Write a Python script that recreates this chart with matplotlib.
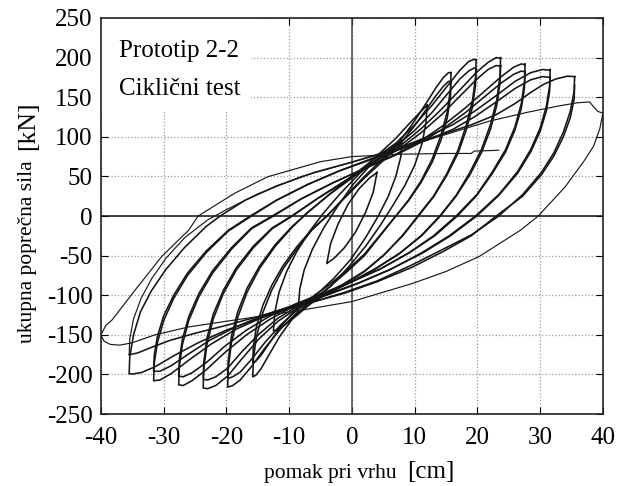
import matplotlib
matplotlib.use("Agg")
import matplotlib.pyplot as plt
from matplotlib.patches import Rectangle

plt.rcParams['font.family'] = ['Liberation Serif', 'DejaVu Serif']
plt.rcParams['axes.unicode_minus'] = False

# hysteresis cycles: displacement [cm], force [kN]
# each closed cycle = unloading from +peak to -peak, then reloading back
c4_d = [4, 3.4, 2.2, 0.6, -1.2, -2.8, -4, -3.4, -2.2, -0.6, 1.2, 2.8, 4]
c4_f = [55, 30, 5, -20, -40, -53, -60, -35, -10, 15, 35, 48, 55]

c8_d = [8, 7.8, 7, 5.8, 4.2, 2.2, -0.2, -2.8, -5.2, -7.2, -8.5,
        -8.3, -7.6, -6.3, -4.5, -2.3, 0.2, 2.8, 5.2, 7, 8]
c8_f = [95, 75, 50, 25, 0, -27, -55, -78, -96, -108, -112,
        -92, -68, -42, -15, 12, 40, 63, 80, 90, 95]

c12_d = [12, 11.8, 11.2, 10, 8.4, 6.5, 4.5, 2.2, -0.5, -3.3, -6.2, -8.7, -10.8, -12, -12.5,
         -12.3, -11.6, -10.4, -8.8, -6.8, -4.6, -2, 1, 4, 7, 9.3, 11, 12]
c12_f = [140, 118, 92, 64, 38, 13, -12, -38, -64, -88, -108, -125, -138, -144, -145,
         -122, -96, -70, -45, -20, 3, 27, 52, 76, 98, 118, 132, 140]

c16a_d = [15.8, 15.7, 15.2, 14.2, 12.8, 11, 9, 7, 4.5, 2, -1, -4, -7, -9.5, -11.5, -13.2, -14.5, -15.3, -15.8,
          -15.7, -15.2, -14.2, -12.8, -11, -8.8, -6.4, -4, -1, 2, 5, 7.6, 9.8, 11.8, 13.4, 14.6, 15.4, 15.8]
c16a_f = [181, 160, 132, 102, 72, 44, 20, 0, -25, -50, -72, -92, -110, -130, -152, -175, -193, -201, -203,
          -180, -152, -122, -94, -67, -42, -18, 0, 25, 50, 73, 94, 118, 142, 162, 175, 181, 181]
c16b_d = [15.8, 15.7, 15.2, 14.2, 12.8, 11, 9, 7, 4.5, 2, -1, -4, -7, -9.5, -11.5, -13.2, -14.5, -15.3, -15.8,
          -15.7, -15.2, -14.2, -12.8, -11, -8.8, -6.4, -4, -1, 2, 5, 7.6, 9.8, 11.8, 13.4, 14.6, 15.4, 15.8]
c16b_f = [170, 150, 124, 96, 68, 42, 19, 0, -24, -48, -70, -89, -106, -123, -141, -161, -176, -183, -185,
          -164, -139, -113, -88, -63, -39, -17, 0, 24, 48, 70, 90, 112, 134, 152, 164, 170, 170]

c20a_d = [19.8, 19.7, 19.2, 18.2, 16.9, 15.1, 13, 10.5, 8, 5, 2, -1.5, -5, -8.5, -11.3, -13.8, -16, -17.8, -19, -19.8,
          -19.7, -19.2, -18.2, -16.7, -14.7, -12.2, -9.5, -7, -3.5, 0, 3.5, 7, 10, 12.8, 15.2, 17.2, 18.6, 19.5, 19.8]
c20a_f = [197, 175, 145, 114, 83, 53, 25, 0, -25, -50, -70, -88, -103, -120, -142, -166, -190, -207, -214, -216,
          -192, -160, -128, -96, -66, -38, -14, 5, 28, 50, 72, 92, 115, 140, 164, 184, 195, 198, 197]
c20b_d = [19.8, 19.7, 19.2, 18.2, 16.9, 15.1, 13, 10.6, 8.1, 5.1, 2.1, -1.4, -5, -8.5, -11.3, -13.8, -16, -17.8, -19, -19.8,
          -19.7, -19.2, -18.2, -16.7, -14.7, -12.2, -9.5, -7.1, -3.6, 0, 3.5, 7, 10, 12.8, 15.2, 17.2, 18.6, 19.5, 19.8]
c20b_f = [186, 165, 137, 108, 79, 51, 24, 0, -25, -49, -69, -86, -101, -117, -137, -159, -181, -197, -203, -205,
          -182, -152, -121, -91, -63, -36, -13, 4, 27, 48, 69, 88, 108, 131, 154, 173, 183, 187, 186]

c24a_d = [23.7, 23.6, 23.1, 22.1, 20.7, 18.8, 16.6, 14, 11, 7.5, 3.5, -0.5, -4.5, -8.5, -11.8, -14.8, -17.5, -19.8, -21.7, -23, -23.7,
          -23.6, -23.1, -22.1, -20.5, -18.4, -15.7, -12.7, -9.5, -5.5, -1, 3.5, 7.6, 11, 14.3, 17.3, 19.8, 21.7, 23, 23.7]
c24a_f = [200, 177, 147, 116, 85, 55, 26, 0, -25, -48, -68, -85, -100, -115, -133, -155, -180, -202, -214, -218, -217,
          -193, -162, -130, -98, -68, -40, -16, 0, 22, 45, 68, 88, 110, 135, 160, 181, 194, 200, 199]
c24b_d = [23.7, 23.6, 23.1, 22.1, 20.7, 18.8, 16.6, 14.1, 11.1, 7.6, 3.6, -0.4, -4.5, -8.5, -11.8, -14.8, -17.5, -19.8, -21.7, -23, -23.7,
          -23.6, -23.1, -22.1, -20.5, -18.4, -15.7, -12.7, -9.6, -5.5, -1, 3.5, 7.6, 11, 14.3, 17.3, 19.8, 21.7, 23, 23.7]
c24b_f = [190, 168, 140, 110, 81, 52, 25, 0, -25, -47, -67, -84, -99, -113, -129, -149, -171, -192, -203, -207, -206,
          -184, -154, -124, -94, -65, -38, -15, 0, 22, 44, 66, 85, 105, 128, 152, 172, 185, 190, 189]

c28a_d = [27.6, 27.5, 27, 26, 24.5, 22.4, 19.9, 16.6, 13, 9, 4.5, 0, -4.5, -9, -13, -16.8, -20.2, -23.2, -25.5, -26.9, -27.6,
          -27.5, -27, -26, -24.4, -22.2, -19.2, -16, -12.5, -8, -3, 2, 7, 11, 14.5, 18, 21.2, 23.8, 25.8, 27, 27.6]
c28a_f = [192, 170, 142, 113, 84, 56, 27, 0, -25, -47, -67, -83, -98, -113, -130, -150, -172, -194, -208, -214, -213,
          -190, -162, -132, -102, -72, -42, -16, 0, 22, 42, 60, 78, 95, 114, 136, 158, 176, 188, 192, 191]
c28b_d = [27.6, 27.5, 27, 26, 24.5, 22.4, 19.9, 16.8, 13.2, 9.2, 4.7, 0.2, -4.5, -9, -13, -16.8, -20.2, -23.2, -25.5, -26.9, -27.6,
          -27.5, -27, -26, -24.4, -22.2, -19.2, -16, -12.7, -8, -3, 2, 7, 11, 14.5, 18, 21.2, 23.8, 25.8, 27, 27.6]
c28b_f = [183, 162, 136, 109, 81, 54, 26, 0, -25, -46, -66, -82, -97, -111, -126, -144, -164, -185, -198, -203, -202,
          -181, -155, -127, -98, -69, -40, -15, 0, 22, 42, 60, 77, 93, 110, 130, 151, 168, 179, 183, 182]

c32a_d = [31.6, 31.5, 31, 30, 28.5, 26.4, 23.4, 19.7, 15.5, 11, 6, 1, -4, -9, -14, -18.5, -22.5, -26, -28.8, -30.6, -31.6,
          -31.5, -31, -30, -28.4, -26.2, -23.2, -19.7, -16, -12, -7, -2, 3, 7.6, 12, 16, 19.5, 23, 26, 28.5, 30.4, 31.6]
c32a_f = [185, 164, 139, 111, 84, 56, 27, 0, -25, -47, -68, -85, -100, -113, -127, -143, -162, -182, -199, -207, -208,
          -186, -160, -132, -104, -75, -46, -19, 0, 20, 40, 57, 72, 86, 100, 115, 132, 152, 170, 181, 185, 184]
c32b_d = [31.6, 31.5, 31, 30, 28.5, 26.4, 23.4, 19.9, 15.7, 11.2, 6.2, 1.2, -4, -9, -14, -18.5, -22.5, -26, -28.8, -30.6, -31.6,
          -31.5, -31, -30, -28.4, -26.2, -23.2, -19.7, -16.2, -12, -7, -2, 3, 7.6, 12, 16, 19.5, 23, 26, 28.5, 30.4, 31.6]
c32b_f = [176, 157, 133, 107, 81, 54, 26, 0, -25, -47, -67, -84, -99, -112, -125, -140, -156, -174, -189, -196, -196,
          -176, -152, -126, -100, -72, -44, -18, 0, 20, 40, 57, 71, 84, 96, 109, 125, 144, 161, 172, 176, 175]

c36a_d = [35.5, 35.4, 34.8, 33.7, 32.2, 30.2, 27.2, 23.4, 19, 14.5, 9.5, 4, -1, -6, -10, -15, -20, -24.5, -28.3, -31.3, -33.5, -35, -35.5,
          -35.4, -34.8, -33.7, -32, -29.7, -26.7, -23.2, -21, -17, -12, -6, 0, 5, 9, 14, 19, 23, 26, 28.5, 30.5, 32.5, 34.3, 35.5]
c36a_f = [176, 157, 132, 106, 80, 55, 27, 0, -24, -42, -62, -82, -96, -108, -117, -130, -144, -160, -176, -190, -197.5, -199.5, -199,
          -178, -150, -121, -95, -68, -40, -13, 0, 20, 38, 55, 68, 80, 90, 102, 115, 128, 142, 156, 166, 173, 176.5, 176]
c36b_d = [35.5, 35.4, 34.8, 33.7, 32.2, 30.2, 27.2, 23, 19, 14.5, 9.5, 4, -1, -6, -10, -15, -20, -25, -29, -32, -34.2, -35.5]
c36b_f = [165, 147, 124, 100, 76, 52, 25, 0, -25, -45, -65, -83, -97, -108, -116, -127, -138, -148, -157, -166, -173, -175]

# last excursions: reload to +40, unload to -40, partial reload
final_d = [-35.5, -35.4, -34.8, -33.6, -31.9, -29.6, -26.6, -23, -20, -15, -8, 0, 7.6, 15, 22, 28, 33, 36, 37.9, 38.5, 39.2, 40,
           39.5, 38.5, 37.1, 34, 29.7, 26.9, 20.3, 15, 9.7, 0, -8.2, -15, -21, -26, -31.4, -35, -37, -38.5, -39.5, -40,
           -39.2, -38.2, -34.5, -30.3, -26, -24.5, -18.7, -13.4, -5, 0, 7.6, 15, 19, 19.5, 23.4]
final_f = [-175, -155, -130, -104, -79, -53, -27, -5, 8, 28, 50, 68, 85, 103, 120, 131, 139, 143, 144, 138, 132, 130,
           110, 88, 70.7, 37, 0, -17.7, -51, -70, -85, -108, -119, -127, -134, -140, -150, -160, -163, -162, -158, -150,
           -138, -131, -93, -51, -17.7, 0, 28.7, 49.6, 68.6, 75, 78, 79, 79, 82, 83]

cycles = [(c4_d, c4_f), (c8_d, c8_f), (c12_d, c12_f),
          (c16a_d, c16a_f), (c16b_d, c16b_f), (c20a_d, c20a_f), (c20b_d, c20b_f),
          (c24a_d, c24a_f), (c24b_d, c24b_f), (c28a_d, c28a_f), (c28b_d, c28b_f),
          (c32a_d, c32a_f), (c32b_d, c32b_f), (c36a_d, c36a_f), (c36b_d, c36b_f)]

x_ticks = [-40, -30, -20, -10, 0, 10, 20, 30, 40]
y_ticks = [-250, -200, -150, -100, -50, 0, 50, 100, 150, 200, 250]

fig = plt.figure(figsize=(6.19, 4.86), dpi=100)
ax = fig.add_axes([0.163, 0.148, 0.811, 0.815])

for d, f in cycles:
    ax.plot(d, f, color='#151515', lw=1.15, zorder=3)
ax.plot(final_d, final_f, color='#1a1a1a', lw=0.85, zorder=3)

ax.set_xlim(-40, 40)
ax.set_ylim(-250, 250)
ax.set_xticks(x_ticks)
ax.set_yticks(y_ticks)
ax.grid(True, linestyle=':', color='#9a9a9a', lw=0.9)
ax.axhline(0, color='#111111', lw=1.1, zorder=2)
ax.axvline(0, color='#444444', lw=1.1, zorder=2)
ax.tick_params(direction='in', length=5, top=True, right=True, labelsize=18)
ax.tick_params(axis='x', pad=9)
ax.tick_params(axis='y', pad=6)
for s in ax.spines.values():
    s.set_linewidth(1.2)
    s.set_color('#222222')

# white patch behind the caption hides the grid
ax.add_patch(Rectangle((-40, 131), 24, 119, facecolor='white', edgecolor='none', zorder=1.8))
ax.text(-37.1, 201, 'Prototip 2-2', fontsize=18, va='baseline', zorder=4)
ax.text(-37.1, 153, 'Ciklični test', fontsize=18, va='baseline', zorder=4)

fig.text(0.641, 0.0165, 'pomak pri vrhu', fontsize=15.5, ha='right', va='baseline')
fig.text(0.657, 0.0165, '[cm]', fontsize=18, ha='left', va='baseline')
fig.text(0.045, 1 - 343 / 486, 'ukupna poprečna sila', fontsize=15.5, rotation=90, ha='center', va='bottom')
fig.text(0.045, 1 - 150 / 486, '[kN]', fontsize=18.5, rotation=90, ha='center', va='bottom')

fig.savefig('out.png', dpi=100)
